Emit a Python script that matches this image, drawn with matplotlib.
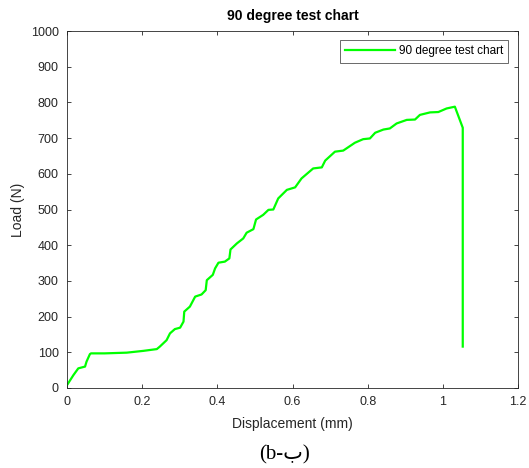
import matplotlib
matplotlib.use("Agg")
import matplotlib.pyplot as plt
import numpy as np

disp_mm = [0.0, 0.017, 0.03, 0.048, 0.052, 0.061, 0.064, 0.10, 0.159, 0.203, 0.239, 0.247,
           0.265, 0.274, 0.287, 0.301, 0.31, 0.312, 0.327, 0.341, 0.358, 0.369, 0.372,
           0.388, 0.394, 0.403, 0.42, 0.432, 0.435, 0.452, 0.469, 0.478, 0.496, 0.503,
           0.522, 0.536, 0.549, 0.562, 0.585, 0.607, 0.624, 0.655, 0.678, 0.687, 0.713,
           0.735, 0.766, 0.788, 0.806, 0.82, 0.842, 0.859, 0.877, 0.904, 0.926, 0.939,
           0.966, 0.988, 1.01, 1.032, 1.053, 1.053]
load_n = [8, 36, 55, 60, 74, 95, 97, 97, 99, 104, 109, 116,
          134, 153, 165, 169, 186, 214, 228, 256, 262, 274, 302,
          317, 335, 351, 354, 363, 388, 405, 419, 435, 445, 472,
          485, 499, 500, 531, 555, 562, 587, 615, 618, 637, 662,
          665, 687, 697, 699, 715, 724, 727, 741, 751, 752, 765,
          772, 773, 783, 788, 729, 116]

title = "90 degree test chart"
legend_label = "90 degree test chart"
xticks = [0, 0.2, 0.4, 0.6, 0.8, 1.0, 1.2]
xtick_labels = ["0", "0.2", "0.4", "0.6", "0.8", "1", "1.2"]
yticks = list(range(0, 1001, 100))

plt.rcParams['font.family'] = ['Liberation Sans', 'DejaVu Sans']

fig = plt.figure(figsize=(5.29, 4.68), dpi=100)
ax = fig.add_axes([67/529, 1-388/468, (518-67)/529, (388-31)/468])
ax.plot(disp_mm, load_n, color='#00ff00', lw=1.6, label=legend_label)
ax.set_xlim(0, 1.2)
ax.set_ylim(0, 1000)
ax.set_xticks(xticks)
ax.set_xticklabels(xtick_labels)
ax.set_yticks(yticks)
ax.tick_params(direction='in', top=True, right=True, length=3, width=0.6,
               labelsize=9, colors='#262626', pad=6)
for s in ax.spines.values():
    s.set_linewidth(0.6)
    s.set_color('#262626')
ax.set_title(title, fontsize=10, fontweight='bold', pad=8)
ax.set_xlabel("Displacement (mm)", fontsize=10, color='#262626', labelpad=6)
ax.set_ylabel("Load (N)", fontsize=10, color='#262626', labelpad=4)
leg = ax.legend(loc='upper right', fontsize=8.5, frameon=True, fancybox=False,
                handlelength=4.2, borderpad=0.45, handletextpad=0.3,
                bbox_to_anchor=(0.978, 0.975), borderaxespad=0)
leg.get_frame().set_edgecolor('#262626')
leg.get_frame().set_linewidth(0.6)
fig.text(284/529, 1-455/468, "(b-\u0628)", ha='center', va='center',
         fontsize=15, family=['Liberation Serif', 'DejaVu Sans'])
fig.savefig("out.png", dpi=100)
